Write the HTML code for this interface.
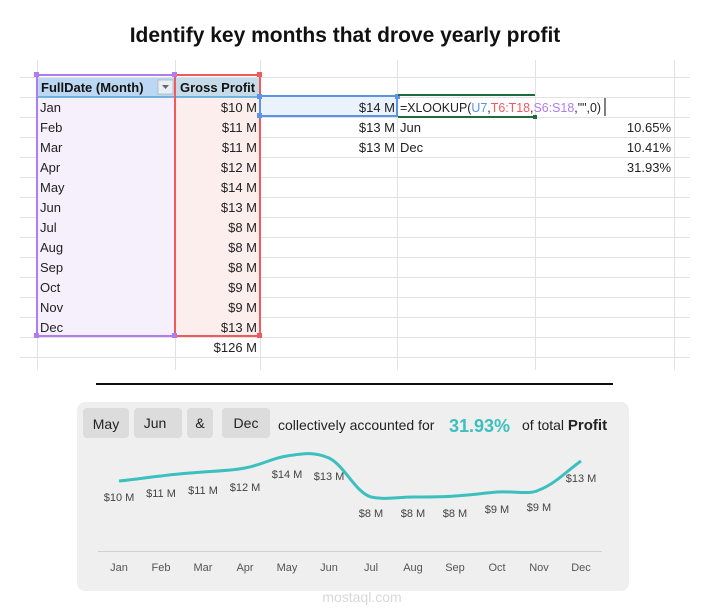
<!DOCTYPE html>
<html><head><style>
body{margin:0;width:723px;height:615px;background:#fff;font-family:"Liberation Sans",sans-serif;position:relative;overflow:hidden}
.t{position:absolute;white-space:nowrap}
</style></head><body>
<div class="t" style="left:0;width:690px;top:24px;text-align:center;font-weight:bold;font-size:21px;color:#111">Identify key months that drove yearly profit</div>
<svg width="723" height="615" style="position:absolute;left:0;top:0" font-family="Liberation Sans, sans-serif">
<g stroke="#e2e2e2" stroke-width="1">
<line x1="20" y1="77.5" x2="690" y2="77.5"/>
<line x1="20" y1="97.5" x2="690" y2="97.5"/>
<line x1="20" y1="117.5" x2="690" y2="117.5"/>
<line x1="20" y1="137.5" x2="690" y2="137.5"/>
<line x1="20" y1="157.5" x2="690" y2="157.5"/>
<line x1="20" y1="177.5" x2="690" y2="177.5"/>
<line x1="20" y1="197.5" x2="690" y2="197.5"/>
<line x1="20" y1="217.5" x2="690" y2="217.5"/>
<line x1="20" y1="237.5" x2="690" y2="237.5"/>
<line x1="20" y1="257.5" x2="690" y2="257.5"/>
<line x1="20" y1="277.5" x2="690" y2="277.5"/>
<line x1="20" y1="297.5" x2="690" y2="297.5"/>
<line x1="20" y1="317.5" x2="690" y2="317.5"/>
<line x1="20" y1="337.5" x2="690" y2="337.5"/>
<line x1="20" y1="357.5" x2="690" y2="357.5"/>
<line x1="37.5" y1="60" x2="37.5" y2="370"/>
<line x1="175.5" y1="60" x2="175.5" y2="370"/>
<line x1="260.5" y1="60" x2="260.5" y2="370"/>
<line x1="397.5" y1="60" x2="397.5" y2="370"/>
<line x1="535.5" y1="60" x2="535.5" y2="370"/>
<line x1="674.5" y1="60" x2="674.5" y2="370"/>
</g>
<rect x="38" y="97" width="137" height="240" fill="#f5f0fc"/>
<rect x="176" y="97" width="84" height="240" fill="#fdeeee"/>
<rect x="38" y="78" width="137" height="19" fill="#bcd7f2"/>
<rect x="176" y="78" width="84" height="19" fill="#c5dbe9"/>
<line x1="38" y1="97" x2="260" y2="97" stroke="#4fa3d8" stroke-width="1.5"/>
<rect x="158" y="80" width="15" height="14" fill="#e8eef4" stroke="#9aa" stroke-width="0.6"/>
<polygon points="162,85 169,85 165.5,89" fill="#666"/>
<rect x="37" y="75" width="138" height="261" fill="none" stroke="#b07cf0" stroke-width="2"/>
<rect x="175" y="75" width="85" height="261" fill="none" stroke="#f0595e" stroke-width="2"/>
<g fill="#b07cf0"><rect x="34" y="72" width="5" height="5"/><rect x="172" y="72" width="5" height="5"/><rect x="34" y="333" width="5" height="5"/><rect x="172" y="333" width="5" height="5"/></g>
<g fill="#f0595e"><rect x="257" y="72" width="5" height="5"/><rect x="257" y="333" width="5" height="5"/></g>
<rect x="261" y="97" width="136" height="19" fill="#eaf2fd"/>
<rect x="260" y="96" width="137" height="20" fill="none" stroke="#5b93e6" stroke-width="2"/>
<g fill="#5b93e6"><rect x="257" y="94" width="5" height="5"/><rect x="395" y="94" width="5" height="5"/><rect x="257" y="113" width="5" height="5"/></g>
<line x1="398" y1="95" x2="535" y2="95" stroke="#1e6b3e" stroke-width="2"/>
<line x1="398" y1="117" x2="535" y2="117" stroke="#1e6b3e" stroke-width="2"/>
<rect x="533" y="115" width="4" height="4" fill="#1e6b3e"/>
<line x1="605" y1="98" x2="605" y2="116" stroke="#000" stroke-width="1"/>
<g font-size="13" fill="#222">
<text x="41" y="92" font-weight="bold" fill="#111">FullDate (Month)</text>
<text x="180" y="92" font-weight="bold" fill="#111">Gross Profit</text>
<text x="40" y="112">Jan</text><text x="40" y="132">Feb</text><text x="40" y="152">Mar</text><text x="40" y="172">Apr</text>
<text x="40" y="192">May</text><text x="40" y="212">Jun</text><text x="40" y="232">Jul</text><text x="40" y="252">Aug</text>
<text x="40" y="272">Sep</text><text x="40" y="292">Oct</text><text x="40" y="312">Nov</text><text x="40" y="332">Dec</text>
<g text-anchor="end">
<text x="257" y="112">$10 M</text><text x="257" y="132">$11 M</text><text x="257" y="152">$11 M</text><text x="257" y="172">$12 M</text>
<text x="257" y="192">$14 M</text><text x="257" y="212">$13 M</text><text x="257" y="232">$8 M</text><text x="257" y="252">$8 M</text>
<text x="257" y="272">$8 M</text><text x="257" y="292">$9 M</text><text x="257" y="312">$9 M</text><text x="257" y="332">$13 M</text>
<text x="257" y="352">$126 M</text>
<text x="395" y="112">$14 M</text><text x="395" y="132">$13 M</text><text x="395" y="152">$13 M</text>
<text x="671" y="132">10.65%</text><text x="671" y="152">10.41%</text><text x="671" y="172">31.93%</text>
</g>
<text x="400" y="132">Jun</text><text x="400" y="152">Dec</text>
<text x="400" y="112" textLength="201" lengthAdjust="spacingAndGlyphs">=XLOOKUP(<tspan fill="#5b93e6">U7</tspan>,<tspan fill="#f0595e">T6:T18</tspan>,<tspan fill="#b07cf0">S6:S18</tspan>,"",0)</text>
</g>
<line x1="96" y1="384" x2="613" y2="384" stroke="#111" stroke-width="2"/>
<rect x="77" y="402" width="552" height="189" rx="8" fill="#efefef"/>
<g fill="#dcdcdc"><rect x="83" y="408" width="46" height="30" rx="4"/><rect x="134" y="408" width="48" height="30" rx="4"/><rect x="187" y="408" width="26" height="30" rx="4"/><rect x="222" y="408" width="48" height="30" rx="4"/></g>
<g font-size="14" fill="#222" text-anchor="middle"><text x="106" y="429">May</text><text x="155" y="428">Jun</text><text x="200" y="428">&amp;</text><text x="246" y="428">Dec</text></g>
<text x="278" y="430" font-size="14" fill="#222">collectively accounted for</text>
<text x="449" y="432" font-size="18" font-weight="bold" fill="#3cbfbf">31.93%</text>
<text x="522" y="430" font-size="14" fill="#222">of total <tspan font-weight="bold" font-size="15">Profit</tspan></text>
<path d="M119,481 C140,479 150,477 161,476 C175,474 190,473 203,472 C220,471 235,470 245,468 C262,465 272,458 287,456 C305,453 315,452 329,458 C345,466 355,492 371,497 C385,500 400,497 413,497 C430,497 445,497 455,496 C470,495 485,493 497,492 C515,491 530,495 539,490 C555,484 568,470 581,461" fill="none" stroke="#3cbfbf" stroke-width="3"/>
<g font-size="11" fill="#444" text-anchor="middle">
<text x="119" y="501">$10 M</text><text x="161" y="497">$11 M</text><text x="203" y="494">$11 M</text><text x="245" y="491">$12 M</text>
<text x="287" y="478">$14 M</text><text x="329" y="480">$13 M</text><text x="371" y="517">$8 M</text><text x="413" y="517">$8 M</text>
<text x="455" y="517">$8 M</text><text x="497" y="513">$9 M</text><text x="539" y="511">$9 M</text><text x="581" y="482">$13 M</text>
</g>
<line x1="98" y1="551.5" x2="602" y2="551.5" stroke="#d0d0d0"/>
<g font-size="11" fill="#555" text-anchor="middle">
<text x="119" y="571">Jan</text><text x="161" y="571">Feb</text><text x="203" y="571">Mar</text><text x="245" y="571">Apr</text>
<text x="287" y="571">May</text><text x="329" y="571">Jun</text><text x="371" y="571">Jul</text><text x="413" y="571">Aug</text>
<text x="455" y="571">Sep</text><text x="497" y="571">Oct</text><text x="539" y="571">Nov</text><text x="581" y="571">Dec</text>
</g>
<text x="362" y="602" font-size="14" fill="#d8d8d8" text-anchor="middle">mostaql.com</text>
</svg>
</body></html>
